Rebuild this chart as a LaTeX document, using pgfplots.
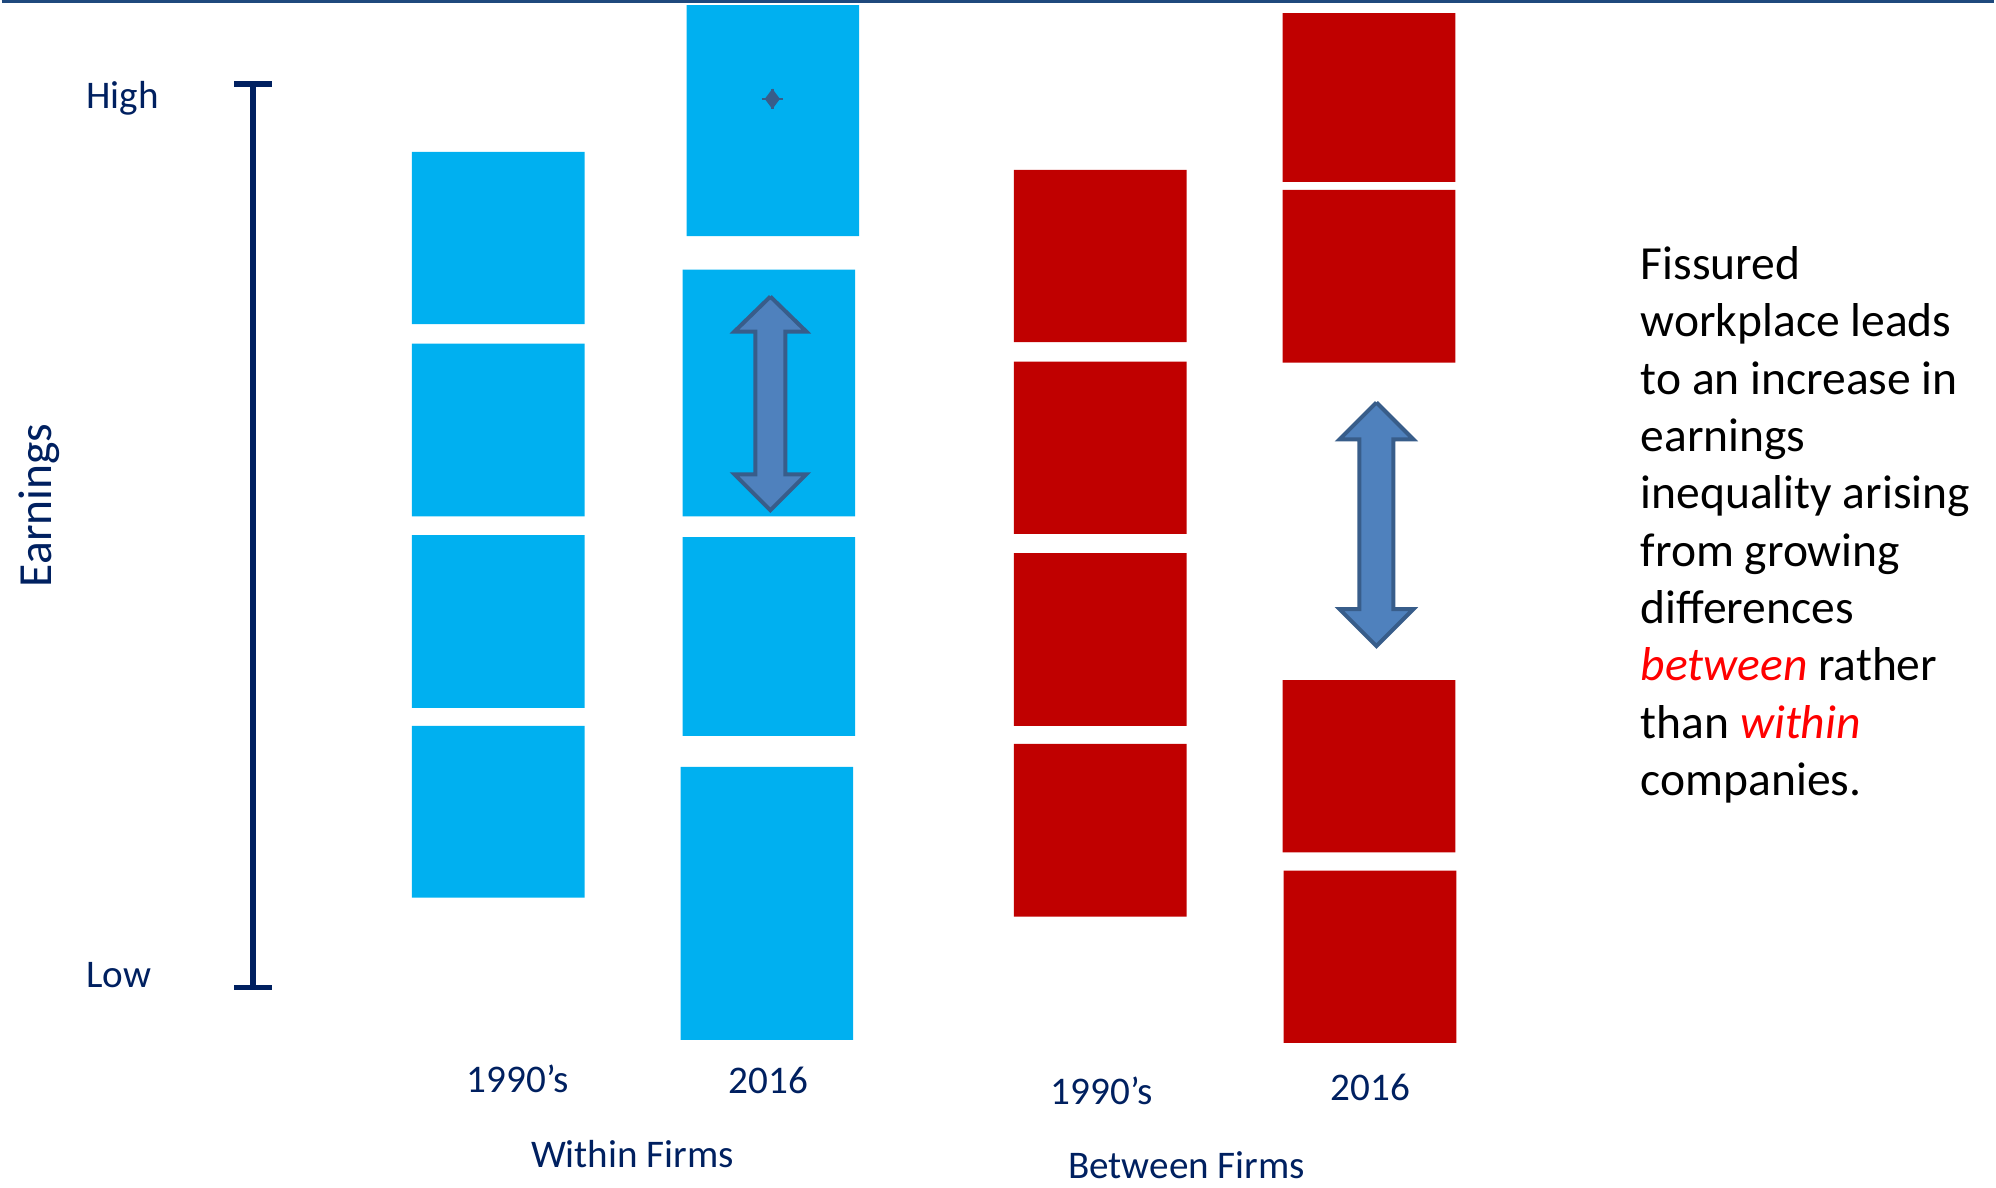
\documentclass[border=0pt]{standalone}
\usepackage{fontspec}
\setmainfont{Carlito}
\usepackage{pgfplots}
\pgfplotsset{compat=1.18}
\definecolor{cblue}{HTML}{00B0F0}
\definecolor{cred}{HTML}{C00000}
\definecolor{navy}{HTML}{002060}
\definecolor{arrfill}{HTML}{4F81BD}
\definecolor{arrdraw}{HTML}{385D8A}
\definecolor{topline}{HTML}{1F497D}
\definecolor{hred}{HTML}{FF0000}
\newcommand{\bx}[5]{\addplot[fill=#1,draw=none] coordinates {(#2,#4) (#3,#4) (#3,#5) (#2,#5) (#2,#4)};}
\begin{document}
\begin{tikzpicture}
\begin{axis}[
  width=499pt, height=297.25pt, scale only axis,
  xmin=0, xmax=1996, ymin=0, ymax=1189, y dir=reverse,
  axis lines=none, clip=false, ticks=none,
]
% frame for bounding box
\addplot[draw=none] coordinates {(0,0) (1996,1189)};
% top rule
\addplot[topline, line width=0.8pt] coordinates {(0,1.5) (1996,1.5)};
% earnings scale
\addplot[navy, line width=1.6pt] coordinates {(252,84) (252,989)};
\addplot[navy, line width=1.4pt] coordinates {(233,84) (271,84)};
\addplot[navy, line width=1.4pt] coordinates {(233,989) (271,989)};
% Within firms, 1990's
\bx{cblue}{411}{584}{152}{324.5}
\bx{cblue}{411}{584}{344}{517}
\bx{cblue}{411}{584}{536}{709}
\bx{cblue}{411}{584}{727}{899}
% Within firms, 2016
\bx{cblue}{686}{859}{5}{236.5}
\bx{cblue}{682}{855}{270}{517}
\bx{cblue}{682}{855}{538}{737}
\bx{cblue}{680}{853}{768}{1041.5}
% Between firms, 1990's
\bx{cred}{1014}{1187}{170}{342.5}
\bx{cred}{1014}{1187}{362}{534.6}
\bx{cred}{1014}{1187}{554}{727}
\bx{cred}{1014}{1187}{745}{918}
% Between firms, 2016
\bx{cred}{1283}{1456}{13}{182}
\bx{cred}{1283}{1456}{190}{363}
\bx{cred}{1283}{1456}{681}{853.6}
\bx{cred}{1284}{1457}{872}{1044.5}
% double arrows
\addplot[fill=arrfill, draw=arrdraw, line width=1pt, line join=miter] coordinates {
 (770,297) (806,332) (785,332) (785,475) (806,475) (770,511)
 (734,475) (755,475) (755,332) (734,332) (770,297)};
\addplot[fill=arrfill, draw=arrdraw, line width=1pt, line join=miter] coordinates {
 (1377,403) (1414,440) (1394,440) (1394,610) (1414,610) (1377,647)
 (1340,610) (1360,610) (1360,440) (1340,440) (1377,403)};
% small star
\addplot[only marks, mark=diamond*, mark size=2.2pt, color=arrdraw] coordinates {(772,99)};
\addplot[only marks, mark=+, mark size=2.6pt, line width=0.6pt, color=arrdraw] coordinates {(772,99)};
% labels
\begin{scope}[every node/.style={font=\fontsize{9.8}{11.6}\selectfont, text=navy, inner sep=0pt}]
\node[anchor=base west] at (axis cs:84,109) {High};
\node[anchor=base west] at (axis cs:84,989) {Low};
\node[anchor=base] at (axis cs:517,1094) {1990’s};
\node[anchor=base] at (axis cs:768,1095) {2016};
\node[anchor=base] at (axis cs:632,1169) {Within Firms};
\node[anchor=base] at (axis cs:1102,1106) {1990’s};
\node[anchor=base] at (axis cs:1371,1102) {2016};
\node[anchor=base] at (axis cs:1187,1180) {Between Firms};
\end{scope}
\node[anchor=base, rotate=90, inner sep=0pt, text=navy, font=\fontsize{11.9}{14}\selectfont] at (axis cs:50,506) {Earnings};
% paragraph
\begin{scope}[every node/.style={font=\fontsize{11.9}{14.4}\selectfont, text=black, inner sep=0pt, anchor=base west}]
\node at (axis cs:1641,280.0) {Fissured};
\node at (axis cs:1641,337.4) {workplace leads};
\node at (axis cs:1641,394.8) {to an increase in};
\node at (axis cs:1641,452.2) {earnings};
\node at (axis cs:1641,509.6) {inequality arising};
\node at (axis cs:1641,567.0) {from growing};
\node at (axis cs:1641,624.4) {differences};
\node at (axis cs:1641,681.8) {\textcolor{hred}{\itshape between} rather};
\node at (axis cs:1641,739.2) {than \textcolor{hred}{\itshape within}};
\node at (axis cs:1641,796.6) {companies.};
\end{scope}
\end{axis}
\end{tikzpicture}
\end{document}
